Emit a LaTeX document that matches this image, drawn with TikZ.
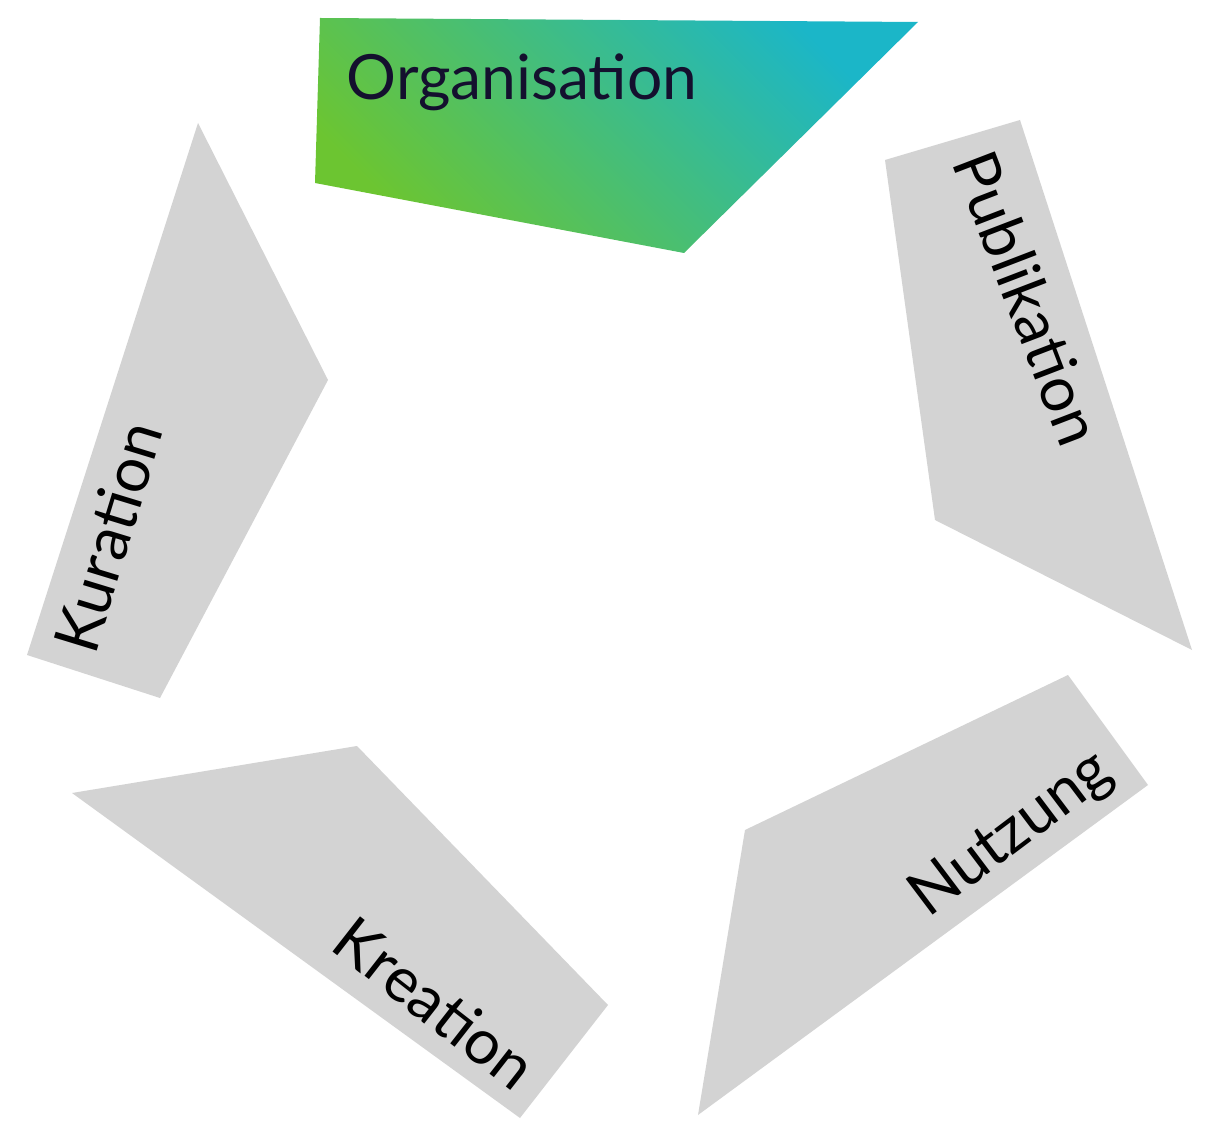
\documentclass[tikz,border=0pt]{standalone}
\usepackage{fontspec}
\setmainfont{Lato}
\usepackage{tikz}
\usetikzlibrary{positioning}
\definecolor{seggray}{RGB}{211,211,211}
\definecolor{orggreen}{RGB}{108,197,49}
\definecolor{orgteal}{RGB}{27,182,200}
\definecolor{labelnavy}{RGB}{20,16,46}

\tikzset{
  segment/.style={fill=seggray},
  seglabel/.style={font=\fontsize{35.5}{42}\selectfont,text=black,inner sep=0pt}
}

\begin{document}
\begin{tikzpicture}[x=0.02cm,y=-0.02cm]
\useasboundingbox (0,0) rectangle (1220,1141);

% Organisation
\shade[top color=orgteal,bottom color=orggreen,shading angle=-45]
  (320,18) -- (918,22) -- (684,253) -- (315,183) -- cycle;
\node[seglabel,text=labelnavy,anchor=base] (org) at (522,100) {Organisation};

% Publikation
\fill[segment] (1020,120) -- (1192,650) -- (935,520) -- (885,160) -- cycle;
\node[seglabel,rotate=-69] (pub) at (1028,298) {Publikation};

% Nutzung
\fill[segment] (1068,675) -- (1148,785) -- (698,1115) -- (745,830) -- cycle;
\node[seglabel,rotate=37] (nutz) at (1012,835) {Nutzung};

% Kreation
\fill[segment] (357,746) -- (608,1005) -- (520,1118) -- (72,793) -- cycle;
\node[seglabel,rotate=-38] (krea) at (435,1003) {Kreation};

% Kuration
\fill[segment] (198,123) -- (328,380) -- (160,698) -- (27,655) -- cycle;
\node[seglabel,rotate=73] (kur) at (108,537) {Kuration};
\end{tikzpicture}
\end{document}
